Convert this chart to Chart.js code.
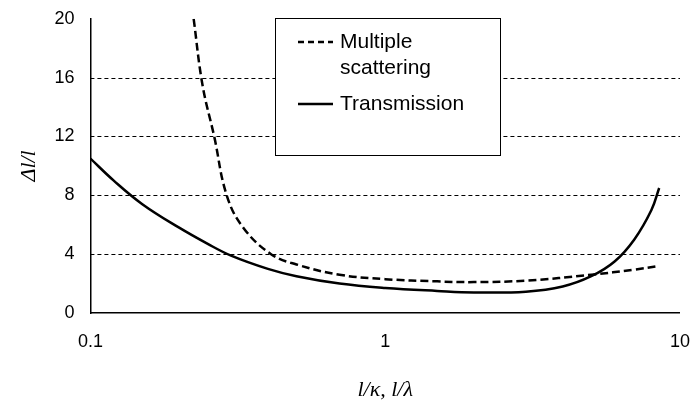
<!DOCTYPE html><html><head><script src="https://cdn.jsdelivr.net/npm/chart.js@4"></script></head><body style="margin:0;background:#fff"><div style="width:700px;height:415px"><canvas id="c"></canvas></div><script>
const transX=[0.1,0.12,0.15,0.2,0.25,0.3,0.4,0.5,0.7,1,1.5,2,3,4,5,6,7,8,8.5];
const transY=[10.5,9.0,7.4,5.8,4.7,3.9,3.0,2.5,2.0,1.7,1.5,1.4,1.45,1.8,2.5,3.5,5.0,7.0,8.5];
const msX=[0.224,0.24,0.263,0.29,0.33,0.41,0.5,0.7,1,1.5,2,3,5,7,8.5];
const msY=[20,15.5,12,8,5.8,4,3.3,2.6,2.3,2.15,2.1,2.2,2.6,2.95,3.2];
const xTicks=[0.1,1,10];
const gridVals=[4,8,12,16];
const gridPlugin={id:'gd',beforeDatasetsDraw(ch){const c=ch.ctx,ys=ch.scales.y,a=ch.chartArea;c.save();c.strokeStyle='#000';c.lineWidth=1;c.setLineDash([4,3]);
gridVals.forEach(v=>{const y=Math.round(ys.getPixelForValue(v))+0.5;c.beginPath();c.moveTo(a.left,y);c.lineTo(a.right,y);c.stroke();});c.restore();}};
const legendPlugin={id:'lg',afterDraw(ch){const c=ch.ctx;c.save();c.fillStyle='#fff';c.fillRect(275,18,225,137);c.strokeStyle='#000';c.lineWidth=1;c.strokeRect(275.5,18.5,225,137);
c.font='21px Arial';c.fillStyle='#000';c.textBaseline='middle';c.lineWidth=2.5;
c.setLineDash([6,4]);c.beginPath();c.moveTo(298,42);c.lineTo(333,42);c.stroke();
c.fillText('Multiple',340,42);c.fillText('scattering',340,68);
c.setLineDash([]);c.beginPath();c.moveTo(298,104);c.lineTo(333,104);c.stroke();
c.fillText('Transmission',340,104);c.restore();}};
new Chart(document.getElementById('c'),{type:'line',data:{datasets:[
{data:msX.map((x,i)=>({x,y:msY[i]})),borderColor:'#000',borderWidth:2.5,borderDash:[8,4],pointRadius:0,tension:0.4,fill:false},
{data:transX.map((x,i)=>({x,y:transY[i]})),borderColor:'#000',borderWidth:2.5,pointRadius:0,tension:0.4,fill:false}]},
options:{animation:false,responsive:true,maintainAspectRatio:false,layout:{padding:{top:10,right:15,left:12,bottom:8}},
plugins:{legend:{display:false},tooltip:{enabled:false}},
scales:{x:{type:'logarithmic',min:0.1,max:10,afterBuildTicks(a){a.ticks=xTicks.map(v=>({value:v}));},
ticks:{color:'#000',font:{family:'Arial',size:18},padding:10,callback:v=>String(v)},grid:{display:false},border:{color:'#000',width:1.5},
title:{display:true,text:'l/κ, l/λ',color:'#000',padding:{top:14},font:{family:'Liberation Serif',size:22,style:'italic'}}},
y:{min:0,max:20,ticks:{stepSize:4,color:'#000',font:{family:'Arial',size:18},padding:8},grid:{display:false},border:{color:'#000',width:1.5},
title:{display:true,text:'Δl/l',color:'#000',font:{family:'Liberation Serif',size:22,style:'italic'}}}}},plugins:[gridPlugin,legendPlugin]});
</script></body></html>
